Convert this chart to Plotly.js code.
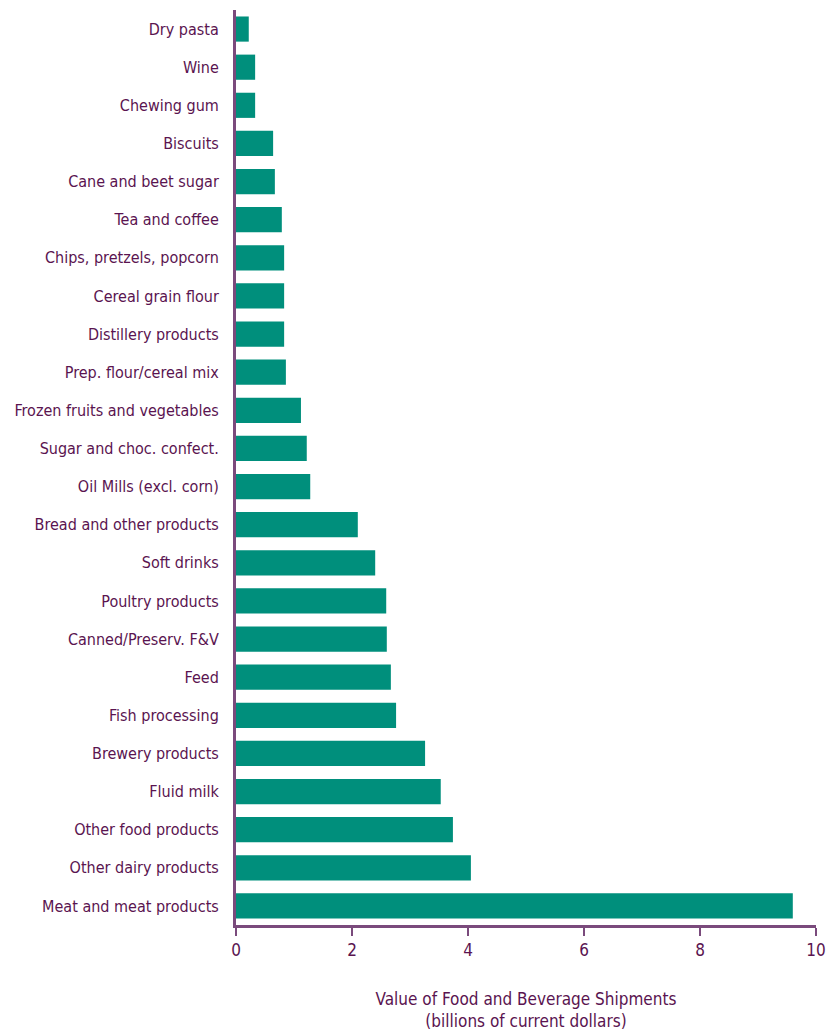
<!DOCTYPE html>
<html>
<head>
<meta charset="utf-8">
<script src="https://cdn.plot.ly/plotly-3.0.1.min.js"></script>
<style>html,body{margin:0;padding:0;background:#fff;}#chart{width:838px;height:1032px;}</style>
</head>
<body>
<div id="chart"></div>
<script>
var categories = [
  "Dry pasta", "Wine", "Chewing gum", "Biscuits", "Cane and beet sugar",
  "Tea and coffee", "Chips, pretzels, popcorn", "Cereal grain flour",
  "Distillery products", "Prep. flour/cereal mix", "Frozen fruits and vegetables",
  "Sugar and choc. confect.", "Oil Mills (excl. corn)", "Bread and other products",
  "Soft drinks", "Poultry products", "Canned/Preserv. F&V", "Feed",
  "Fish processing", "Brewery products", "Fluid milk", "Other food products",
  "Other dairy products", "Meat and meat products"
];
var values = [
  0.22, 0.33, 0.33, 0.64, 0.67,
  0.79, 0.83, 0.83,
  0.83, 0.86, 1.12,
  1.22, 1.28, 2.10,
  2.40, 2.59, 2.60, 2.67,
  2.76, 3.26, 3.53, 3.74,
  4.05, 9.60
];
var xTickVals = [0, 2, 4, 6, 8, 10];
var xTitle = "Value of Food and Beverage Shipments<br>(billions of current dollars)";

var textColor = "#5a1450";
var axisColor = "#7a4a7c";
var font = "'DejaVu Sans Condensed', 'Liberation Sans Narrow', 'Roboto', sans-serif";

Plotly.newPlot("chart", [{
  type: "bar",
  orientation: "h",
  x: values,
  y: categories,
  marker: {color: "#008f7c"},
  hoverinfo: "x+y"
}], {
  width: 838, height: 1032,
  margin: {l: 236, r: 22, t: 10, b: 107},
  paper_bgcolor: "#fff", plot_bgcolor: "#fff",
  bargap: 0.34,
  showlegend: false,
  font: {family: font, color: textColor, size: 16},
  xaxis: {
    range: [0, 10],
    tickvals: xTickVals,
    ticks: "outside", ticklen: 8, tickwidth: 2, tickcolor: axisColor,
    showline: true, linecolor: axisColor, linewidth: 3,
    showgrid: false, zeroline: false,
    tickfont: {size: 17, family: font, color: textColor},
    title: {text: xTitle, font: {size: 17, family: font, color: textColor}, standoff: 34}
  },
  yaxis: {
    type: "category",
    autorange: false,
    range: [23.5, -0.5],
    showline: true, linecolor: axisColor, linewidth: 3,
    showgrid: false, zeroline: false,
    ticks: "", ticklabelstandoff: 11,
    tickfont: {size: 16, family: font, color: textColor}
  }
}, {displayModeBar: false});
</script>
</body>
</html>
